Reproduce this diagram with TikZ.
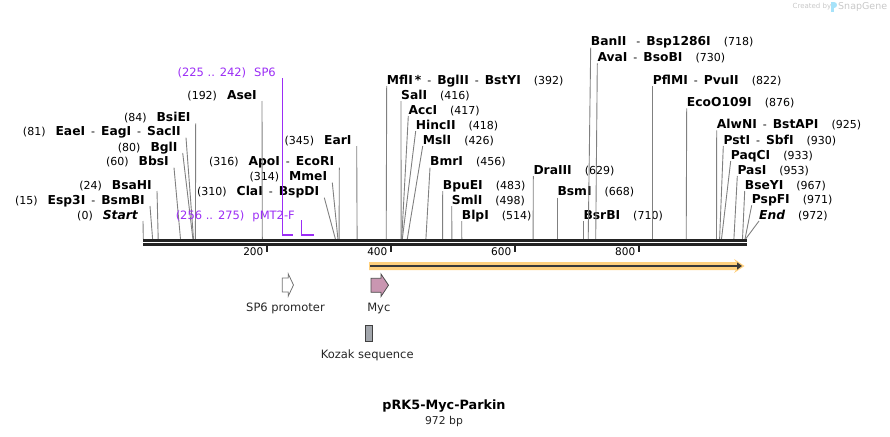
\documentclass[tikz,border=0pt]{standalone}
\usepackage{fontspec}
\setmainfont{DejaVu Sans}
\usetikzlibrary{arrows.meta}

\definecolor{sitegray}{RGB}{128,128,128}
\definecolor{primer}{RGB}{155,45,245}
\definecolor{bbone}{RGB}{35,35,35}
\definecolor{parkinfill}{RGB}{255,208,125}
\definecolor{mycfill}{RGB}{201,150,177}
\definecolor{kozakfill}{RGB}{162,166,172}
\definecolor{wmark}{RGB}{200,200,200}

% separators and names inside the enzyme labels
\newcommand{\dsh}{\hspace{6pt}-\hspace{6pt}}
\newcommand{\gp}{\hspace{10pt}}
\newcommand{\gq}{\hspace{13pt}}
\newcommand{\nm}[1]{{\fontsize{12.3}{14}\selectfont\bfseries #1}}

\tikzset{
  enz/.style={font=\fontsize{11}{13}\selectfont, inner sep=0pt},
  site/.style={draw=sitegray, line width=0.9pt},
  tick/.style={draw=bbone, line width=2pt},
  ticklbl/.style={font=\fontsize{10.5}{12}\selectfont, inner sep=0pt, anchor=base east},
  featlbl/.style={font=\fontsize{11.5}{13}\selectfont, inner sep=0pt, anchor=base, text=black!85},
  primerline/.style={draw=primer, line width=1pt},
  primerbar/.style={draw=primer, line width=2pt}
}

\begin{document}
\begin{tikzpicture}[x=1pt, y=-1pt]
	\useasboundingbox (0,0) rectangle (890,436);

	% cut sites on the top of the backbone
	\coordinate (s0)   at (143.3,239);
	\coordinate (s15)  at (152.6,239);
	\coordinate (s24)  at (158.2,239);
	\coordinate (s60)  at (180.5,239);
	\coordinate (s80)  at (192.9,239);
	\coordinate (s81)  at (193.5,239);
	\coordinate (s84)  at (195.4,239);
	\coordinate (s192) at (262.3,239);
	\coordinate (s310) at (335.4,239);
	\coordinate (s314) at (337.9,239);
	\coordinate (s316) at (339.1,239);
	\coordinate (s345) at (357.1,239);
	\coordinate (s392) at (386.2,239);
	\coordinate (s416) at (401.1,239);
	\coordinate (s417) at (401.7,239);
	\coordinate (s418) at (402.3,239);
	\coordinate (s426) at (407.3,239);
	\coordinate (s456) at (425.9,239);
	\coordinate (s483) at (442.6,239);
	\coordinate (s498) at (451.9,239);
	\coordinate (s514) at (461.8,239);
	\coordinate (s629) at (533.1,239);
	\coordinate (s668) at (557.3,239);
	\coordinate (s710) at (583.3,239);
	\coordinate (s718) at (588.2,239);
	\coordinate (s730) at (595.7,239);
	\coordinate (s822) at (652.7,239);
	\coordinate (s876) at (686.2,239);
	\coordinate (s925) at (716.5,239);
	\coordinate (s930) at (719.6,239);
	\coordinate (s933) at (721.5,239);
	\coordinate (s953) at (733.9,239);
	\coordinate (s967) at (742.5,239);
	\coordinate (s971) at (745.0,239);
	\coordinate (s972) at (745.6,239);

	% labels left of their site
	\begin{scope}[every node/.style={enz, anchor=base east}]
	\node (start)  at (138,219)   {(0)\gp\nm{\itshape Start}};
	\node (esp3I)  at (145,204)   {(15)\gp\nm{Esp3I}\dsh\nm{BsmBI}};
	\node (bsaHI)  at (152,189)   {(24)\gp\nm{BsaHI}};
	\node (bbsI)   at (169,165.7) {(60)\gp\nm{BbsI}};
	\node (bglI)   at (177.7,151) {(80)\gp\nm{BglI}};
	\node (eaeI)   at (181,135.7) {(81)\gp\nm{EaeI}\dsh\nm{EagI}\dsh\nm{SacII}};
	\node (bsiEI)  at (190.7,121.3) {(84)\gp\nm{BsiEI}};
	\node (aseI)   at (257,99)    {(192)\gp\nm{AseI}};
	\node (claI)   at (319.3,195.7) {(310)\gp\nm{ClaI}\dsh\nm{BspDI}};
	\node (mmeI)   at (327.3,180.7) {(314)\gp\nm{MmeI}};
	\node (apoI)   at (334.3,165.7) {(316)\gp\nm{ApoI}\dsh\nm{EcoRI}};
	\node (earI)   at (351.7,144) {(345)\gp\nm{EarI}};
	\end{scope}

	\begin{scope}[every path/.style={site}]
	\draw ([shift={(5,2)}]start.base east) -- (s0);
	\draw ([shift={(5,2)}]esp3I.base east) -- (s15);
	\draw ([shift={(5,2)}]bsaHI.base east) -- (s24);
	\draw ([shift={(5,2)}]bbsI.base east)  -- (s60);
	\draw ([shift={(5,2)}]bglI.base east)  -- (s80);
	\draw ([shift={(5,2)}]eaeI.base east)  -- (s81);
	\draw ([shift={(5,2)}]bsiEI.base east) -- (s84);
	\draw ([shift={(5,2)}]aseI.base east)  -- (s192);
	\draw ([shift={(5,2)}]claI.base east)  -- (s310);
	\draw ([shift={(5,2)}]mmeI.base east)  -- (s314);
	\draw ([shift={(5,2)}]apoI.base east)  -- (s316);
	\draw ([shift={(5,2)}]earI.base east)  -- (s345);
	\end{scope}

	% labels right of their site
	\begin{scope}[every node/.style={enz, anchor=base west}]
	\node (mflI)     at (386.7,84)    {\nm{MflI\,*}\dsh\nm{BglII}\dsh\nm{BstYI}\gq(392)};
	\node (salI)     at (401,99)      {\nm{SalI}\gq(416)};
	\node (accI)     at (408.3,114)   {\nm{AccI}\gq(417)};
	\node (hincII)   at (415.7,129)   {\nm{HincII}\gq(418)};
	\node (mslI)     at (422.7,144)   {\nm{MslI}\gq(426)};
	\node (bmrI)     at (430,165.7)   {\nm{BmrI}\gq(456)};
	\node (bpuEI)    at (442.7,189)   {\nm{BpuEI}\gq(483)};
	\node (smlI)     at (451.7,204)   {\nm{SmlI}\gq(498)};
	\node (blpI)     at (461.7,219)   {\nm{BlpI}\gq(514)};
	\node (draIII)   at (533.3,174)   {\nm{DraIII}\gq(629)};
	\node (bsmI)     at (557.3,195.7) {\nm{BsmI}\gq(668)};
	\node (bsrBI)    at (583.3,219)   {\nm{BsrBI}\gq(710)};
	\node (banII)    at (590.7,45.7)  {\nm{BanII}\hspace{10pt}-\hspace{6pt}\nm{Bsp1286I}\gq(718)};
	\node (avaI)     at (597.3,61.3)  {\nm{AvaI}\dsh\nm{BsoBI}\gq(730)};
	\node (pflMI)    at (652.7,84)    {\nm{PflMI}\dsh\nm{PvuII}\gq(822)};
	\node (ecoO109I) at (686.7,106.3) {\nm{EcoO109I}\gq(876)};
	\node (alwNI)    at (716.7,128.3) {\nm{AlwNI}\dsh\nm{BstAPI}\gq(925)};
	\node (pstI)     at (723.3,144)   {\nm{PstI}\dsh\nm{SbfI}\gq(930)};
	\node (paqCI)    at (730.7,159)   {\nm{PaqCI}\gq(933)};
	\node (pasI)     at (737.3,174)   {\nm{PasI}\gq(953)};
	\node (bseYI)    at (744.7,189)   {\nm{BseYI}\gq(967)};
	\node (pspFI)    at (751.7,203.3) {\nm{PspFI}\gq(971)};
	\node (endsite)  at (759,219)     {\nm{\itshape End}\gq(972)};
	\end{scope}

	\begin{scope}[every path/.style={site}]
	\draw ([shift={(0,2)}]mflI.base west)     -- (s392);
	\draw ([shift={(0,2)}]salI.base west)     -- (s416);
	\draw ([shift={(0,2)}]accI.base west)     -- (s417);
	\draw ([shift={(0,2)}]hincII.base west)   -- (s418);
	\draw ([shift={(0,2)}]mslI.base west)     -- (s426);
	\draw ([shift={(0,2)}]bmrI.base west)     -- (s456);
	\draw ([shift={(0,2)}]bpuEI.base west)    -- (s483);
	\draw ([shift={(0,2)}]smlI.base west)     -- (s498);
	\draw ([shift={(0,2)}]blpI.base west)     -- (s514);
	\draw ([shift={(0,2)}]draIII.base west)   -- (s629);
	\draw ([shift={(0,2)}]bsmI.base west)     -- (s668);
	\draw ([shift={(0,2)}]bsrBI.base west)    -- (s710);
	\draw ([shift={(0,2)}]banII.base west)    -- (s718);
	\draw ([shift={(0,2)}]avaI.base west)     -- (s730);
	\draw ([shift={(0,2)}]pflMI.base west)    -- (s822);
	\draw ([shift={(0,2)}]ecoO109I.base west) -- (s876);
	\draw ([shift={(0,2)}]alwNI.base west)    -- (s925);
	\draw ([shift={(0,2)}]pstI.base west)     -- (s930);
	\draw ([shift={(0,2)}]paqCI.base west)    -- (s933);
	\draw ([shift={(0,2)}]pasI.base west)     -- (s953);
	\draw ([shift={(0,2)}]bseYI.base west)    -- (s967);
	\draw ([shift={(0,2)}]pspFI.base west)    -- (s971);
	\draw ([shift={(0,2)}]endsite.base west)  -- (s972);
	\end{scope}

	% primers
	\begin{scope}[every node/.style={enz, anchor=base east, text=primer, font=\fontsize{11.5}{13}\selectfont}]
	\node (sp6)   at (276,76)  {(225 .. 242)\hspace{8pt}SP6};
	\node (pmt2f) at (295,219) {(256 .. 275)\hspace{8pt}pMT2-F};
	\end{scope}
	\coordinate (sp6a)   at (282.7,235.2);
	\coordinate (sp6b)   at (293.3,235.2);
	\coordinate (pmt2fa) at (301.7,235.2);
	\coordinate (pmt2fb) at (313.7,235.2);
	\draw[primerline] (282.7,78) -- (sp6a);
	\draw[primerline] (301.7,220) -- (pmt2fa);
	\draw[primerbar] ([xshift=-0.5]sp6a) -- (sp6b);
	\draw[primerbar] ([xshift=-0.5]pmt2fa) -- (pmt2fb);

	% backbone and ruler
	\draw[bbone, line width=2.6pt] (143,240.4) -- (746.7,240.4);
	\draw[bbone, line width=2.6pt] (143,244.4) -- (746.7,244.4);
	\draw[tick] (267.2,245.5) -- (267.2,252);
	\draw[tick] (391.2,245.5) -- (391.2,252);
	\draw[tick] (515.1,245.5) -- (515.1,252);
	\draw[tick] (639.1,245.5) -- (639.1,252);
	\node[ticklbl] (t200) at (263.5,255.8) {200};
	\node[ticklbl] (t400) at (387.5,255.8) {400};
	\node[ticklbl] (t600) at (511.4,255.8) {600};
	\node[ticklbl] (t800) at (635.4,255.8) {800};

	% features
	\coordinate (parkinA) at (370,266);
	\coordinate (parkinB) at (742,266);
	\fill[parkinfill] (369,262) -- (736,262) -- (734,259) -- (744.5,266) -- (734,273) -- (736,270) -- (369,270) -- cycle;
	\draw[bbone!90, line width=2.4pt, -{Triangle[length=5pt, width=7pt]}] (parkinA) -- (parkinB);

	\draw[draw=black!55, fill=white, line width=0.8pt]
		(282.3,278) -- (288.3,278) -- (288.3,274) -- (293.5,285) -- (288.3,296) -- (288.3,292) -- (282.3,292) -- cycle;
	\draw[draw=black!70, fill=mycfill, line width=0.8pt]
		(371,278.3) -- (381,278.3) -- (381,274) -- (388.5,285.2) -- (381,296.5) -- (381,292.3) -- (371,292.3) -- cycle;
	\draw[draw=black!75, fill=kozakfill, line width=0.8pt] (365.3,325.3) rectangle (372.5,341);

	\node[featlbl] (sp6prom) at (285.5,311.7) {SP6 promoter};
	\node[featlbl] (myc)     at (378.8,311.7) {Myc};
	\node[featlbl] (kozak)   at (367.2,358)   {Kozak sequence};

	% title
	\node[inner sep=0pt, anchor=base, font=\fontsize{12.8}{15}\selectfont\bfseries] (title) at (444,409.7) {pRK5-Myc-Parkin};
	\node[inner sep=0pt, anchor=base, font=\fontsize{10.8}{12}\selectfont, text=black!85] (size) at (444,424.5) {972 bp};

	% watermark
	\node[inner sep=0pt, anchor=base west, font=\fontsize{7}{8}\selectfont, text=wmark] (made) at (792.5,9) {Created by};
	\fill[cyan!35] (830.5,2) rectangle (833.5,12.5);
	\fill[cyan!35] (833.5,2) .. controls (837.5,2) and (837.5,8) .. (833.5,8) -- cycle;
	\node[inner sep=0pt, anchor=base west, font=\fontsize{9.5}{11}\selectfont, text=wmark] (sgene) at (838,10) {SnapGene};
\end{tikzpicture}
\end{document}
